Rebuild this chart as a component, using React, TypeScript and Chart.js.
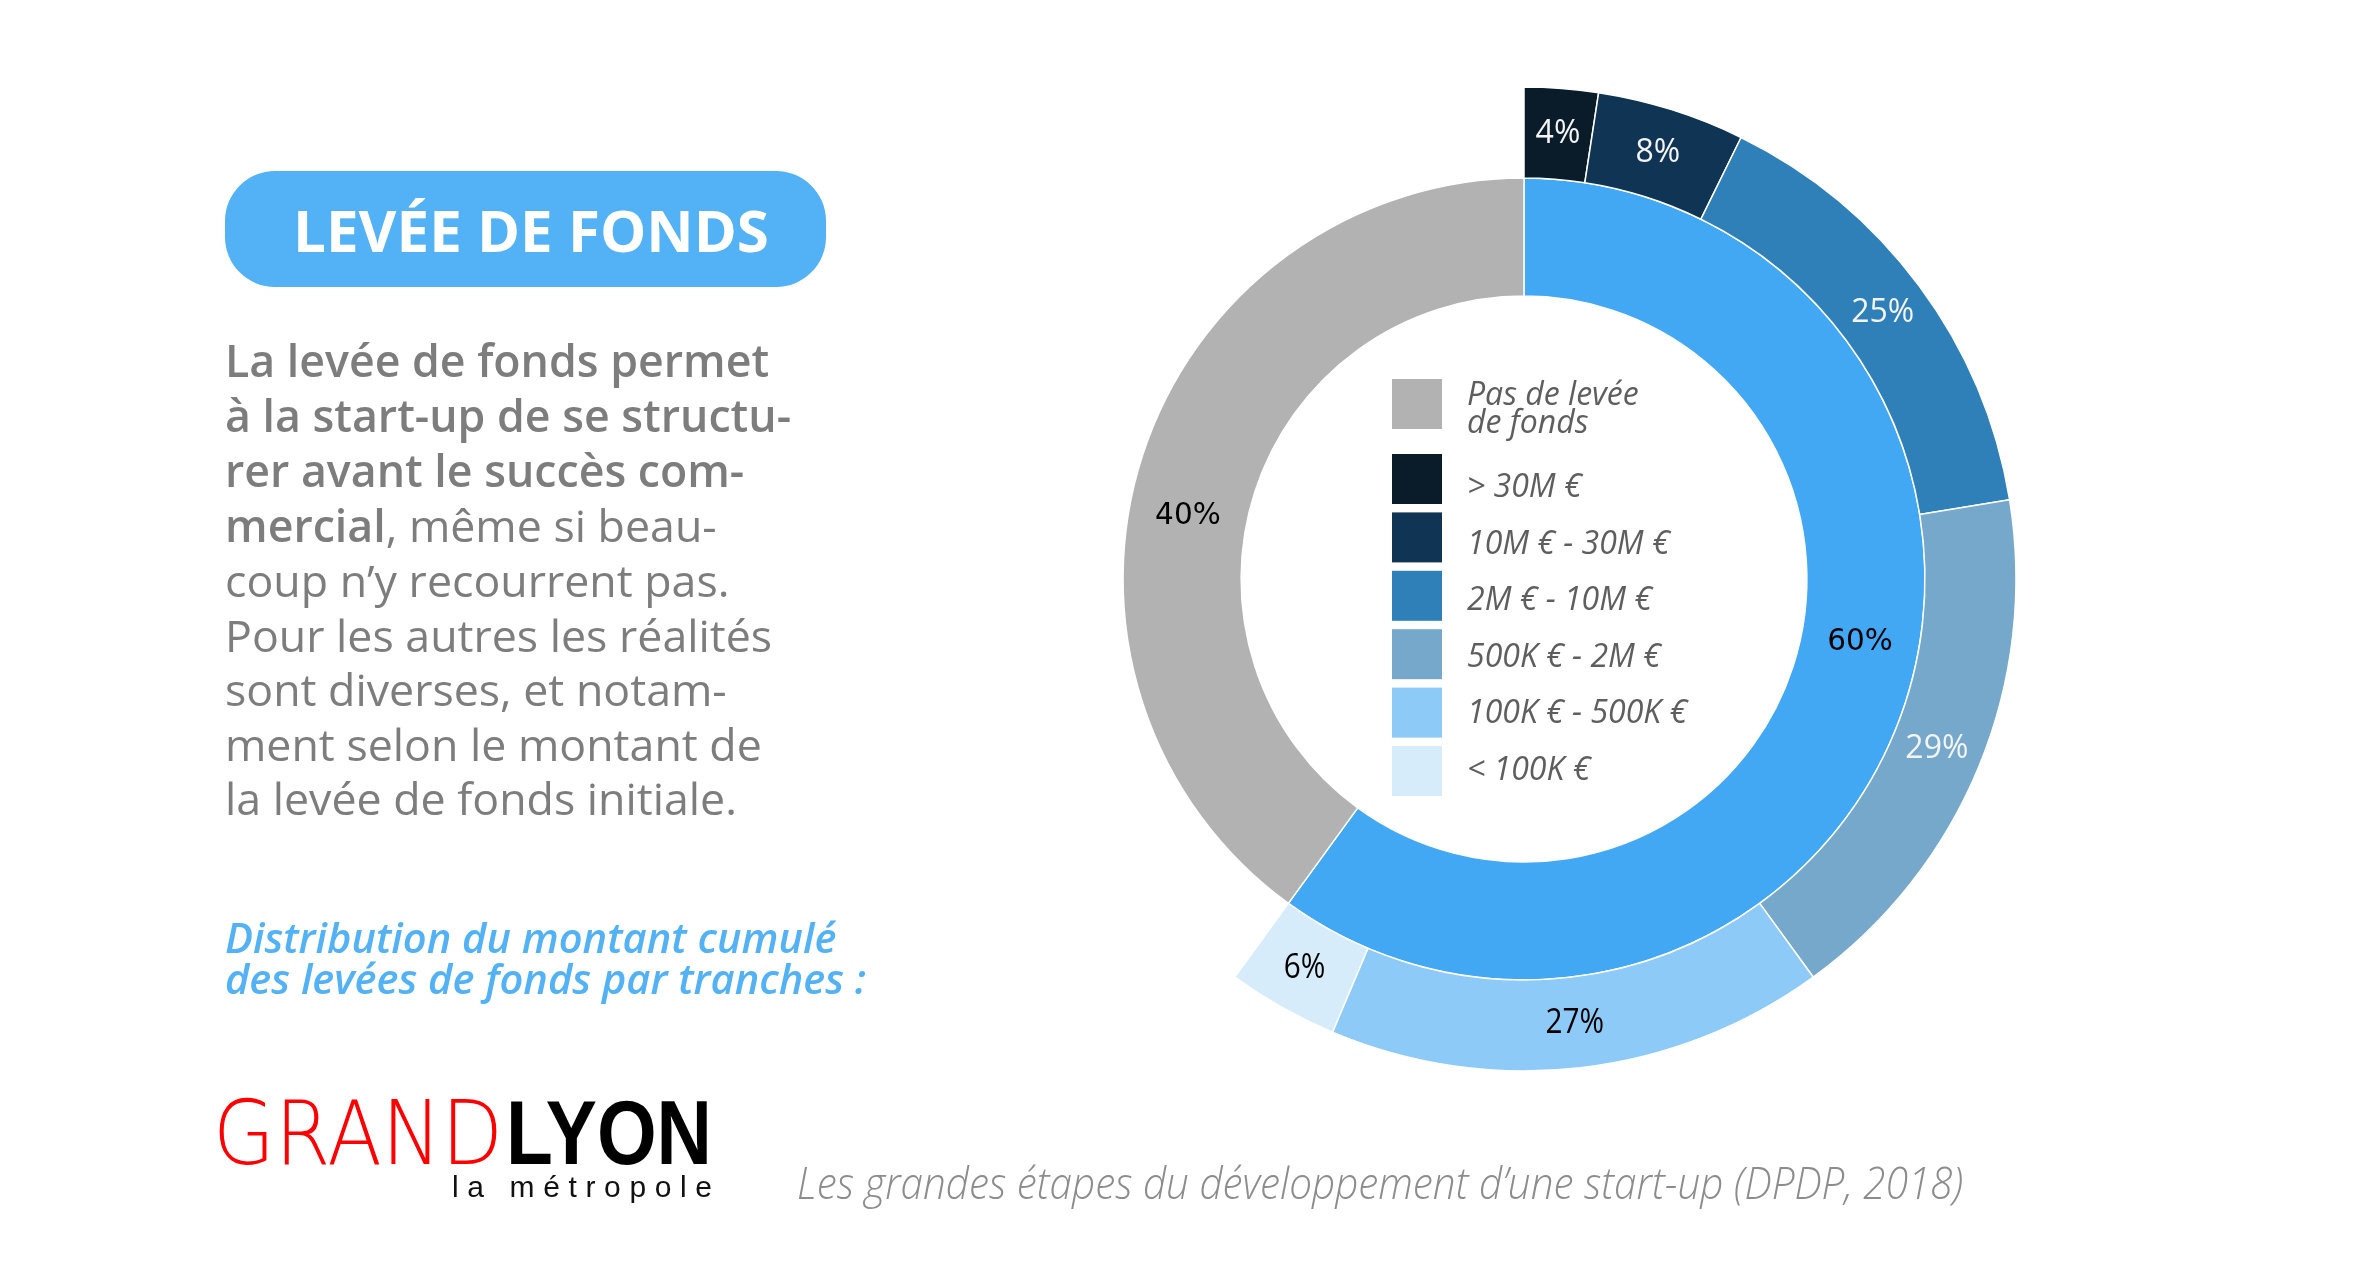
import React, { useEffect, useRef } from 'react';
import { Chart, registerables } from 'chart.js';

Chart.register(...registerables);

// ---------------- data ----------------
const trancheLabels = ['> 30M €', '10M € - 30M €', '2M € - 10M €', '500K € - 2M €', '100K € - 500K €', '< 100K €'];
const trancheValues = [4, 8, 25, 29, 27, 6];
const splitLabels = ['Levée de fonds', 'Pas de levée de fonds'];
const splitValues = [60, 40];
const noFundLegendLines = ['Pas de levée', 'de fonds'];

// ---------------- styles ----------------
const trancheColors = ['#0a1b2a', '#0f3454', '#2f7fb8', '#76a8cb', '#8dcaf8', '#d7ecfb'];
const trancheTextColors = ['#f4f4f4', '#f4f4f4', '#f4f4f4', '#f4f4f4', '#000000', '#000000'];
const trancheTextFonts = ['32px "Open Sans"', '32px "Open Sans"', '32px "Open Sans"', '32px "Open Sans"', '35px "Open Sans"', '35px "Open Sans"'];
const trancheTextScale = [1, 1, 1, 1, 0.85, 0.85];
const trancheTextAngleShift = [0, 0, 0, 0, 0, 0];
const splitColors = ['#42a8f4', '#b2b2b2'];
const splitTextColors = ['#000000', '#000000'];
const splitTextFonts = ['29.5px "DejaVu Sans"', '29.5px "DejaVu Sans"'];
const splitTextScale = [1, 1];
const splitTextAngleShift = [-7.4, -7.4];

const W = 2371;
const H = 1267;
const CX = 1524;
const CY = 579;
const R = 492;
const CANVAS = 1000;

const pctLabelPlugin = {
  id: 'pctLabels',
  afterDatasetsDraw(chart: any) {
    const ctx = chart.ctx as CanvasRenderingContext2D;
    chart.data.datasets.forEach((ds: any, di: number) => {
      const meta = chart.getDatasetMeta(di);
      meta.data.forEach((arc: any, i: number) => {
        const p = arc.getProps(['x', 'y', 'startAngle', 'endAngle', 'innerRadius', 'outerRadius'], true);
        const a = (p.startAngle + p.endAngle) / 2 + (ds.textAngleShift[i] * Math.PI) / 180;
        const r = (p.innerRadius + p.outerRadius) / 2;
        const x = p.x + Math.cos(a) * r;
        const y = p.y + Math.sin(a) * r;
        ctx.save();
        ctx.font = ds.textFonts[i];
        ctx.fillStyle = ds.textColors[i];
        ctx.textAlign = 'center';
        ctx.textBaseline = 'middle';
        ctx.translate(x, y);
        ctx.scale(ds.textScale[i], 1);
        ctx.fillText(`${ds.data[i]}%`, 0, 0);
        ctx.restore();
      });
    });
  },
};

function DonutChart() {
  const ref = useRef<HTMLCanvasElement>(null);
  useEffect(() => {
    if (!ref.current) return;
    const total = splitValues.reduce((a, b) => a + b, 0);
    const outerSweep = (splitValues[0] / total) * 360;
    const chart = new Chart(ref.current, {
      type: 'doughnut',
      data: {
        labels: trancheLabels,
        datasets: [
          {
            label: 'Tranches',
            data: trancheValues,
            backgroundColor: trancheColors,
            borderColor: '#ffffff',
            borderWidth: 1.5,
            circumference: outerSweep,
            weight: 91,
            textColors: trancheTextColors,
            textFonts: trancheTextFonts,
            textScale: trancheTextScale,
            textAngleShift: trancheTextAngleShift,
          } as any,
          {
            label: splitLabels.join(' / '),
            data: splitValues,
            backgroundColor: splitColors,
            borderColor: '#ffffff',
            borderWidth: 1.5,
            weight: 118,
            textColors: splitTextColors,
            textFonts: splitTextFonts,
            textScale: splitTextScale,
            textAngleShift: splitTextAngleShift,
          } as any,
        ],
      },
      options: {
        responsive: false,
        animation: false,
        devicePixelRatio: 1,
        cutout: '57.5%',
        radius: R,
        layout: { padding: 0 },
        events: [],
        plugins: { legend: { display: false }, tooltip: { enabled: false } },
      } as any,
      plugins: [pctLabelPlugin],
    });
    return () => chart.destroy();
  }, []);
  return (
    <canvas
      ref={ref}
      width={CANVAS}
      height={CANVAS}
      style={{ position: 'absolute', left: CX - CANVAS / 2, top: CY - CANVAS / 2, width: CANVAS, height: CANVAS }}
    />
  );
}

const legendSquareYs = [454, 512.4, 570.8, 629.2, 687.6, 746];
const legendBaselines = [497, 553.6, 610.2, 666.8, 723.4, 780];

export default function App() {
  const gray = '#7d7d7d';
  const blue = '#53b1f5';
  return (
    <div style={{ position: 'absolute', left: 0, top: 0, width: W, height: H, background: '#ffffff', overflow: 'hidden' }}>
      <DonutChart />
      <svg
        width={W}
        height={H}
        style={{ position: 'absolute', left: 0, top: 0, pointerEvents: 'none' }}
      >
        {/* badge */}
        <rect x={225} y={171} width={601} height={116} rx={50} ry={50} fill={blue} />
        <text x={531} y={252} textAnchor="middle" fill="#ffffff" fontFamily="Open Sans" fontWeight={700} fontSize={58} textLength={476} lengthAdjust="spacingAndGlyphs">
          LEVÉE DE FONDS
        </text>

        {/* paragraph */}
        <g fontFamily="Open Sans" fontSize={44.7} fill={gray}>
          <text x={225} y={377} fontWeight={600}>La levée de fonds permet</text>
          <text x={225} y={432} fontWeight={600}>à la start-up de se structu-</text>
          <text x={225} y={487} fontWeight={600}>rer avant le succès com-</text>
          <text x={225} y={542}>
            <tspan fontWeight={600}>mercial</tspan>
            <tspan>, même si beau-</tspan>
          </text>
          <text x={225} y={597}>coup n’y recourrent pas.</text>
          <text x={225} y={652}>Pour les autres les réalités</text>
          <text x={225} y={706}>sont diverses, et notam-</text>
          <text x={225} y={761}>ment selon le montant de</text>
          <text x={225} y={815}>la levée de fonds initiale.</text>
        </g>

        {/* subtitle */}
        <g fontFamily="Open Sans" fontStyle="italic" fontWeight={600} fontSize={41.6} fill={blue}>
          <text x={225} y={953}>Distribution du montant cumulé</text>
          <text x={225} y={994}>des levées de fonds par tranches :</text>
        </g>

        {/* logo */}
        <text x={213} y={1164} fill="#ff0000" fontFamily="DejaVu Sans" fontWeight={200} fontSize={89} textLength={290} lengthAdjust="spacingAndGlyphs">
          GRAND
        </text>
        <text x={506} y={1164} fill="#000000" fontFamily="Liberation Sans Narrow, Liberation Sans" fontWeight={700} fontSize={91} textLength={206} lengthAdjust="spacingAndGlyphs">
          LYON
        </text>
        <text x={452} y={1197} fill="#111111" fontFamily="Liberation Sans Narrow, Liberation Sans" fontSize={30} textLength={260} lengthAdjust="spacing">
          la métropole
        </text>

        {/* source */}
        <text x={797} y={1199} fill="#8c8c8c" fontFamily="Open Sans" fontStyle="italic" fontWeight={300} fontSize={45} textLength={1166} lengthAdjust="spacingAndGlyphs">
          Les grandes étapes du développement d’une start-up (DPDP, 2018)
        </text>

        {/* legend inside the doughnut */}
        <rect x={1392} y={379} width={50} height={50} fill={splitColors[1]} />
        <g fontFamily="Open Sans" fontStyle="italic" fontSize={32} fill="#5e5e5e">
          <text x={1467} y={405}>{noFundLegendLines[0]}</text>
          <text x={1467} y={433}>{noFundLegendLines[1]}</text>
          {trancheLabels.map((lab, i) => (
            <text key={lab} x={1467} y={legendBaselines[i]}>{lab}</text>
          ))}
        </g>
        {trancheLabels.map((lab, i) => (
          <rect key={`sq-${lab}`} x={1392} y={legendSquareYs[i]} width={50} height={50} fill={trancheColors[i]} />
        ))}
      </svg>
    </div>
  );
}
